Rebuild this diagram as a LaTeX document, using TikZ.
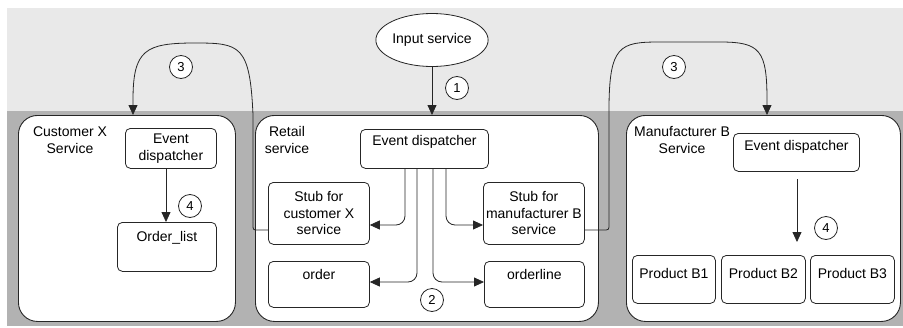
\documentclass[tikz,border=0pt]{standalone}
\usepackage{fontspec}
\setmainfont{Liberation Sans}
\usetikzlibrary{shapes.geometric,arrows.meta}

\begin{document}
\begin{tikzpicture}[x=1pt,y=-1pt,
  font=\fontsize{14}{16.5}\selectfont,
  outer/.style={draw=black!85, line width=0.9pt, fill=white, rounded corners=19pt,
    anchor=north west, inner sep=0pt},
  inner/.style={draw=black!85, line width=0.8pt, fill=white, rounded corners=5pt,
    anchor=north west, inner sep=3pt, align=center},
  topbox/.style={inner, text height=10.5pt},
  caption/.style={align=center, inner sep=0pt},
  num/.style={circle, draw=black!85, line width=0.8pt, fill=white, minimum size=23pt,
    inner sep=0pt, font=\fontsize{13}{13}\selectfont},
  arr/.style={draw=black!85, line width=0.8pt, -{Triangle[length=10pt,width=9pt]}},
  link/.style={arr, rounded corners=9pt},
]
\useasboundingbox (0,0) rectangle (903,327);

% background bands
\fill[gray!17] (7,8) rectangle (903,111);
\fill[gray!60] (7,111) rectangle (903,326);

% input service
\node[ellipse, draw=black!85, line width=0.8pt, fill=white, minimum width=102pt,
  minimum height=53pt, inner sep=0pt] (input) at (432,40) {Input service};

% ---------------- customer X service
\node[outer, minimum width=217pt, minimum height=206pt] (cust) at (18,115) {};
\node[caption] (custT) at (70,140) {Customer X\\Service};
\node[inner, minimum width=91pt, minimum height=40pt] (custED) at (125,128) {Event\\dispatcher};
\node[topbox, minimum width=99pt, minimum height=49pt, text depth=21.5pt] (olist) at (117,222) {Order\_list};

% ---------------- retail service
\node[outer, minimum width=343pt, minimum height=206pt] (retail) at (255,115) {};
\node[caption] (retailT) at (287,140) {Retail\\service};
\node[topbox, minimum width=128pt, minimum height=39pt, text depth=17.5pt] (retED) at (360,129) {Event dispatcher};
\node[inner, minimum width=101pt, minimum height=62pt] (stubC) at (268,182) {Stub for\\customer X\\service};
\node[inner, minimum width=101pt, minimum height=62pt, inner sep=1pt] (stubM) at (483,182) {Stub for\\manufacturer B\\service};
\node[topbox, minimum width=101pt, minimum height=46pt, text depth=20.5pt] (order) at (268,261) {order};
\node[topbox, minimum width=100pt, minimum height=46pt, text depth=20.5pt] (oline) at (484,261) {orderline};

% ---------------- manufacturer B service
\node[outer, minimum width=274pt, minimum height=206pt] (mfr) at (626,115) {};
\node[caption] (mfrT) at (682,140) {Manufacturer B\\Service};
\node[topbox, minimum width=126pt, minimum height=38pt, text depth=14.5pt] (mfrED) at (733,133) {Event dispatcher};
\node[topbox, minimum width=83pt, minimum height=48pt, text depth=12.5pt, inner sep=1pt] (pb1) at (632,255) {Product B1};
\node[topbox, minimum width=84pt, minimum height=48pt, text depth=12.5pt, inner sep=1pt] (pb2) at (721,255) {Product B2};
\node[topbox, minimum width=84pt, minimum height=48pt, text depth=12.5pt, inner sep=1pt] (pb3) at (810,255) {Product B3};

% ---------------- connectors
% 1: input service to retail
\draw[arr] (input.south) -- (input.south |- retail.north);

% 2: retail dispatcher fans out to stubs and entities
\coordinate (fa) at (405,0);
\coordinate (fb) at (417,0);
\coordinate (fc) at (433,0);
\coordinate (fd) at (446,0);
\draw[link] (fa |- retED.south) -- (405,225) -- (stubC.east |- 0,225);
\draw[link] (fb |- retED.south) -- (417,282) -- (order.east |- 0,282);
\draw[link] (fc |- retED.south) -- (433,282) -- (oline.west |- 0,282);
\draw[link] (fd |- retED.south) -- (446,225) -- (stubM.west |- 0,225);

% 3: stubs forward to the remote services
\coordinate (l3) at (133,100);
\coordinate (r3) at (767,100);
\draw[arr] (stubC.west |- 0,230) -- (258,230)
  .. controls (253,230) .. (253,224) -- (253,115)
  .. controls (250,45) and (240,43) .. (195,43)
  .. controls (145,43) and (133,50) .. (l3) -- (l3 |- cust.north);
\draw[arr] (stubM.east |- 0,230) -- (603,230)
  .. controls (609,230) .. (609,224) -- (609,110)
  .. controls (609,45) and (620,42) .. (660,42) -- (720,42)
  .. controls (760,42) and (767,50) .. (r3) -- (r3 |- mfr.north);

% 4: local dispatching
\draw[arr] (custED.south -| 166,0) -- (166,0 |- olist.north);
\draw[arr] (797,179) -- (797,242);

% step numbers
\node[num] (n1) at (457,88) {1};
\node[num] (n2) at (432,300) {2};
\node[num] (n3a) at (181,67) {3};
\node[num] (n3b) at (674,67) {3};
\node[num] (n4a) at (190,206) {4};
\node[num] (n4b) at (826,228) {4};
\end{tikzpicture}
\end{document}
